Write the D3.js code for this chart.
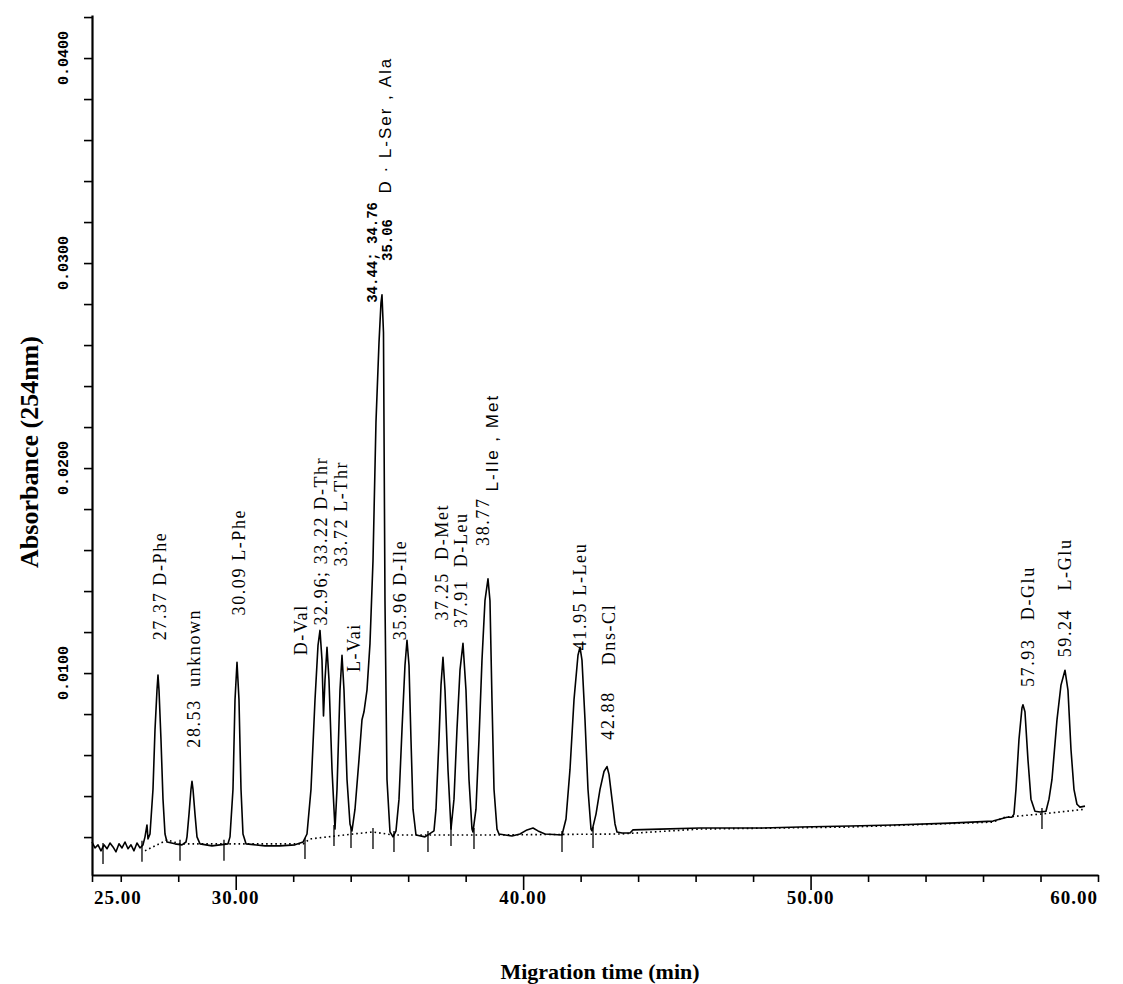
<!DOCTYPE html>
<html>
<head>
<meta charset="utf-8">
<script src="https://cdn.jsdelivr.net/npm/d3@7"></script>
<style>
body { margin: 0; background: #fff; }
svg { display: block; }
text { white-space: pre; }
</style>
</head>
<body>
<svg id="chart" width="1123" height="984"></svg>
<script>
// electropherogram trace (migration time in min, absorbance)
const traceTime = [
    25.000, 25.104, 25.209, 25.313, 25.417, 25.522, 25.626, 25.731, 25.835, 25.939,
    26.044, 26.148, 26.252, 26.357, 26.461, 26.565, 26.670, 26.774, 26.844, 26.913, 26.948,
    27.018, 27.122, 27.192, 27.261, 27.296, 27.331, 27.400, 27.470, 27.540, 27.609,
    27.887, 28.131, 28.270,
    28.305, 28.375, 28.444, 28.479, 28.514, 28.583, 28.653, 28.757, 29.175, 29.731,
    29.801, 29.905, 29.975, 30.045, 30.114, 30.184, 30.253, 30.358, 31.019, 31.540, 32.062, 32.341,
    32.480, 32.619, 32.758, 32.863, 32.932, 33.002, 33.054, 33.106, 33.176, 33.245, 33.350,
    33.454, 33.524, 33.628, 33.698, 33.767, 33.872, 33.976, 34.045, 34.150, 34.289, 34.393,
    34.463, 34.567, 34.672, 34.776, 34.880, 34.985, 35.054, 35.089, 35.141, 35.193, 35.263,
    35.367, 35.472,
    35.576, 35.681, 35.785, 35.889, 35.959, 36.029, 36.098, 36.168, 36.272, 36.585, 36.898,
    36.968, 37.072, 37.142, 37.211, 37.281, 37.385, 37.490,
    37.594, 37.698, 37.803, 37.907, 38.011, 38.116, 38.220, 38.255,
    38.359, 38.464, 38.568, 38.672, 38.777, 38.846, 38.916, 38.986, 39.090, 39.160,
    39.612, 39.890, 40.134, 40.343, 40.517, 40.760, 41.352,
    41.491, 41.630, 41.769, 41.908, 41.978, 42.047, 42.152, 42.256, 42.361, 42.396,
    42.535, 42.674, 42.813, 42.917, 42.987, 43.091, 43.196, 43.265, 43.439, 43.717, 43.822,
    44.761, 46.153, 48.240, 49.631, 51.371, 52.867, 54.850, 56.346, 56.833, 57.007,
    57.076, 57.146, 57.250, 57.355, 57.389, 57.459, 57.563, 57.668, 57.807, 57.981, 58.190,
    58.295, 58.399, 58.573, 58.712, 58.851, 58.955, 59.060, 59.164, 59.268, 59.373, 59.547
];
const traceAbs = [
    0.00176, 0.00147, 0.00162, 0.00133, 0.00162, 0.00143, 0.00171, 0.00152, 0.00128, 0.00167,
    0.00147, 0.00176, 0.00143, 0.00162, 0.00133, 0.00171, 0.00147, 0.00162, 0.00201, 0.00259, 0.00191,
    0.00215, 0.00433, 0.00724, 0.00917, 0.00990, 0.00917, 0.00675, 0.00385, 0.00215, 0.00176,
    0.00167, 0.00162, 0.00176,
    0.00201, 0.00312, 0.00433, 0.00472, 0.00433, 0.00312, 0.00201, 0.00167, 0.00157, 0.00167,
    0.00201, 0.00433, 0.00869, 0.01053, 0.00869, 0.00433, 0.00215, 0.00167, 0.00157, 0.00157, 0.00162, 0.00176,
    0.00215, 0.00433, 0.00869, 0.01135, 0.01208, 0.01063, 0.00791, 0.00966, 0.01126, 0.00966, 0.00530,
    0.00239, 0.00433, 0.00917, 0.01087, 0.00917, 0.00481, 0.00264, 0.00230, 0.00336, 0.00578, 0.00772,
    0.00811, 0.00917, 0.01145, 0.01547, 0.02225, 0.02612, 0.02806, 0.02845, 0.02661, 0.01353, 0.00481,
    0.00225, 0.00201,
    0.00230, 0.00385, 0.00724, 0.01038, 0.01160, 0.01038, 0.00675, 0.00336, 0.00210, 0.00201, 0.00230,
    0.00336, 0.00675, 0.00941, 0.01077, 0.00917, 0.00530, 0.00239,
    0.00385, 0.00724, 0.01014, 0.01145, 0.00917, 0.00481, 0.00239, 0.00225,
    0.00336, 0.00675, 0.01063, 0.01353, 0.01460, 0.01353, 0.00869, 0.00433, 0.00239, 0.00215,
    0.00205, 0.00215, 0.00235, 0.00244, 0.00230, 0.00215, 0.00210,
    0.00288, 0.00530, 0.00869, 0.01087, 0.01126, 0.01063, 0.00772, 0.00433, 0.00239, 0.00230,
    0.00312, 0.00433, 0.00520, 0.00544, 0.00506, 0.00385, 0.00264, 0.00225, 0.00220, 0.00220, 0.00235,
    0.00239, 0.00244, 0.00244, 0.00249, 0.00254, 0.00259, 0.00268, 0.00278, 0.00297, 0.00297,
    0.00312, 0.00433, 0.00675, 0.00830, 0.00845, 0.00811, 0.00578, 0.00385, 0.00326, 0.00322, 0.00326,
    0.00385, 0.00481, 0.00772, 0.00941, 0.01014, 0.00917, 0.00627, 0.00433, 0.00360, 0.00346, 0.00351
];

// dotted integration baseline
const baseTime = [26.844, 27.609, 28.062, 32.341, 32.584, 34.080, 34.776, 35.472, 38.498,
    43.369, 46.153, 51.371, 56.346, 56.763, 57.981, 59.547];
const baseAbs = [0.00133, 0.00186, 0.00167, 0.00167, 0.00191, 0.00215, 0.00225, 0.00210, 0.00210,
    0.00215, 0.00239, 0.00249, 0.00273, 0.00297, 0.00312, 0.00336];

// peak start / end markers
const markerTime = [25.383, 26.739, 28.062, 29.592, 32.410, 33.419, 34.011, 34.776, 35.506,
    36.689, 37.490, 38.290, 41.352, 42.431, 58.051];
const markerAbs = [0.00152, 0.00162, 0.00167, 0.00167, 0.00176, 0.00239, 0.00230, 0.00225, 0.00210,
    0.00210, 0.00239, 0.00225, 0.00210, 0.00230, 0.00322];

const yTickValues = d3.range(1, 22).map(i => i * 0.002);
const yTickLabels = [0.01, 0.02, 0.03, 0.04];
const xTickValues = [25].concat(d3.range(26, 61, 2));
const xTickLabels = [25, 30, 40, 50, 60];
const xMajorTicks = [30, 40, 50];

// peak annotations: text, time, absorbance at the start of the text
const serifLabels = [
    {text: "27.37 D-Phe", t: 27.366, v: 0.01160},
    {text: "28.53  unknown", t: 28.548, v: 0.00636},
    {text: "30.09 L-Phe", t: 30.114, v: 0.01281},
    {text: "D-Val", t: 32.271, v: 0.01087},
    {text: "32.96; 33.22 D-Thr", t: 32.967, v: 0.01232},
    {text: "33.72 L-Thr", t: 33.663, v: 0.01520},
    {text: "L-Vai", t: 34.115, v: 0.01005},
    {text: "35.96 D-Ile", t: 35.715, v: 0.01160},
    {text: "37.25  D-Met", t: 37.190, v: 0.01256},
    {text: "37.91  D-Leu", t: 37.840, v: 0.01220},
    {text: "38.77", t: 38.603, v: 0.01620},
    {text: "41.95 L-Leu", t: 41.978, v: 0.01111},
    {text: "Dns-Cl", t: 42.987, v: 0.01038},
    {text: "42.88", t: 42.952, v: 0.00675},
    {text: "57.93   D-Glu", t: 57.563, v: 0.00932},
    {text: "59.24   L-Glu", t: 58.851, v: 0.01077}
];
const sansLabels = [
    {text: "D \u00b7 L-Ser , Ala", t: 35.193, v: 0.03339},
    {text: "L-Ile , Met", t: 38.916, v: 0.01886}
];
const monoLabels = [
    {text: "34.44; 34.76", t: 34.741, v: 0.02806},
    {text: "35.06", t: 35.263, v: 0.03010}
];

const svg = d3.select("#chart");

const x = d3.scaleLinear().domain([25, 60]).range([92, 1098]);
const y = d3.scaleLinear().domain([0.00015, 0.0421]).range([875, 15]);

// axes
const xAxis = d3.axisBottom(x)
    .tickValues(xTickValues)
    .tickSize(7)
    .tickSizeOuter(0)
    .tickFormat("");
const gx = svg.append("g")
    .attr("transform", `translate(0, ${y.range()[0]})`)
    .call(xAxis);
gx.selectAll(".tick line")
    .attr("y2", d => xMajorTicks.includes(d) ? 15 : 7);

const yAxis = d3.axisLeft(y)
    .tickValues(yTickValues)
    .tickSize(8)
    .tickSizeOuter(0)
    .tickFormat("");
svg.append("g")
    .attr("transform", `translate(${x.range()[0]}, 0)`)
    .call(yAxis);

svg.selectAll(".domain").attr("stroke", "#000").attr("stroke-width", 2.2);
svg.selectAll(".tick line").attr("stroke", "#000").attr("stroke-width", 1.6);

// tick labels
svg.append("g").selectAll("text")
    .data(xTickLabels)
    .join("text")
    .attr("x", (d, i) => i === 0 ? x(d) + 2 : x(d))
    .attr("y", 904)
    .attr("text-anchor", (d, i) => i === 0 ? "start" : (i === xTickLabels.length - 1 ? "end" : "middle"))
    .attr("font-family", "'Liberation Serif', serif")
    .attr("font-weight", "bold")
    .attr("font-size", 19)
    .attr("letter-spacing", 1)
    .text(d => d3.format(".2f")(d));

svg.append("g").selectAll("text")
    .data(yTickLabels)
    .join("text")
    .attr("transform", d => `translate(68, ${y(d)}) rotate(-90)`)
    .attr("text-anchor", "middle")
    .attr("font-family", "'Liberation Mono', monospace")
    .attr("font-weight", "bold")
    .attr("font-size", 15)
    .text(d => d3.format(".4f")(d));

// axis titles
svg.append("text")
    .attr("x", 600)
    .attr("y", 979)
    .attr("text-anchor", "middle")
    .attr("font-family", "'Liberation Serif', serif")
    .attr("font-weight", "bold")
    .attr("font-size", 22)
    .text("Migration time (min)");

svg.append("text")
    .attr("transform", "translate(38, 452) rotate(-90)")
    .attr("text-anchor", "middle")
    .attr("font-family", "'Liberation Serif', serif")
    .attr("font-weight", "bold")
    .attr("font-size", 26)
    .text("Absorbance (254nm)");

// dotted baseline
const baseLine = d3.line()
    .x((d, i) => x(baseTime[i]))
    .y((d, i) => y(baseAbs[i]));
svg.append("path")
    .attr("d", baseLine(baseTime))
    .attr("fill", "none")
    .attr("stroke", "#000")
    .attr("stroke-width", 1.6)
    .attr("stroke-dasharray", "1.6,3");

// markers
svg.append("g").selectAll("line")
    .data(markerTime)
    .join("line")
    .attr("x1", d => x(d))
    .attr("x2", d => x(d))
    .attr("y1", (d, i) => y(markerAbs[i]) - 4)
    .attr("y2", (d, i) => y(markerAbs[i]) + 17)
    .attr("stroke", "#000")
    .attr("stroke-width", 1.3);

// trace
const traceLine = d3.line()
    .x((d, i) => x(traceTime[i]))
    .y((d, i) => y(traceAbs[i]));
svg.append("path")
    .attr("d", traceLine(traceTime))
    .attr("fill", "none")
    .attr("stroke", "#000")
    .attr("stroke-width", 1.6)
    .attr("stroke-linejoin", "round");

// peak labels
function drawLabels(labels, family, size, spacing, weight) {
    svg.append("g").selectAll("text")
        .data(labels)
        .join("text")
        .attr("transform", d => `translate(${x(d.t) + size * 0.33}, ${y(d.v)}) rotate(-90)`)
        .attr("text-anchor", "start")
        .attr("font-family", family)
        .attr("font-weight", weight)
        .attr("font-size", size)
        .attr("letter-spacing", spacing)
        .text(d => d.text);
}
drawLabels(serifLabels, "'Liberation Serif', serif", 18, 1.6, "normal");
drawLabels(sansLabels, "'Liberation Sans', sans-serif", 17, 2, "normal");
drawLabels(monoLabels, "'Liberation Mono', monospace", 14, 0, "bold");
</script>
</body>
</html>
